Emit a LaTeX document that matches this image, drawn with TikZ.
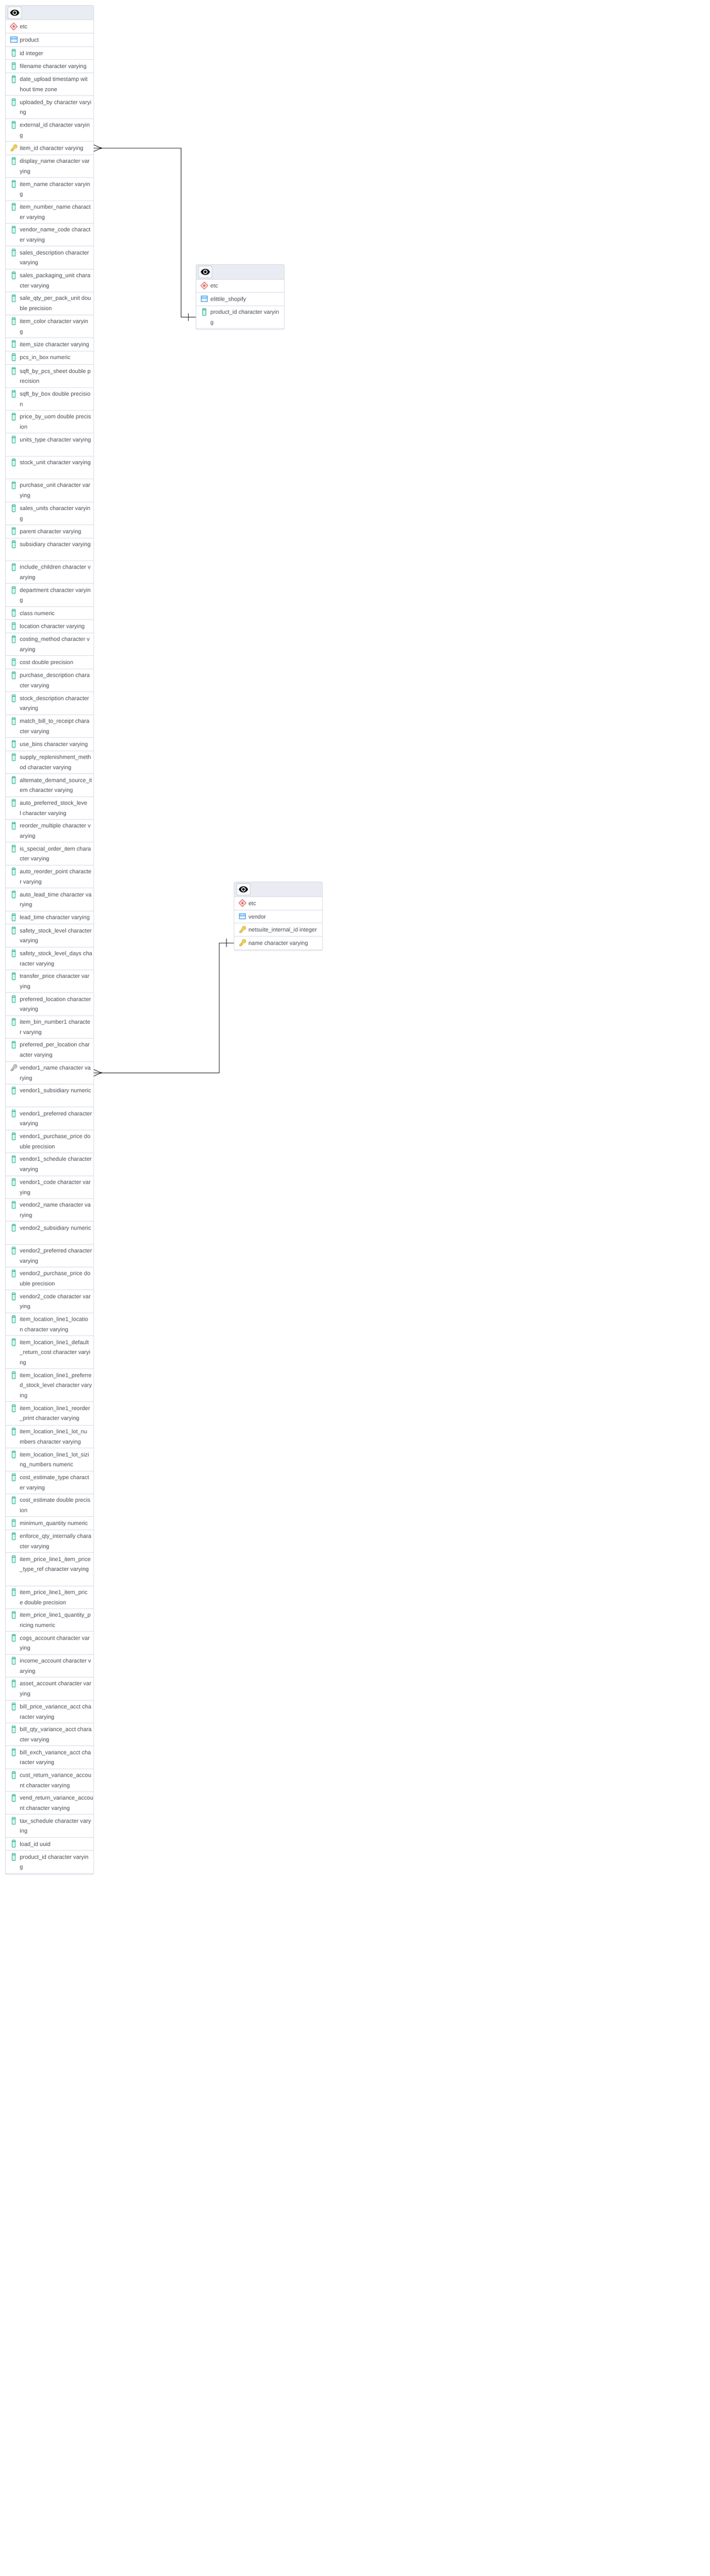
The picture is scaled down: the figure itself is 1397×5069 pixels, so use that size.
\documentclass[tikz,border=0pt]{standalone}
\usepackage{fontspec}
\setmainfont{Liberation Sans}
\usetikzlibrary{calc}
\catcode`\_=12
\definecolor{rowline}{HTML}{DADCE6}
\definecolor{frameline}{HTML}{D8DBE5}
\definecolor{headfill}{HTML}{E9ECF2}
\definecolor{btnfill}{HTML}{F8F9FB}
\definecolor{btnline}{HTML}{BFC5D2}
\definecolor{inktext}{HTML}{4A4E55}
\definecolor{teal}{HTML}{3DBD9F}
\definecolor{tealdark}{HTML}{1E8E76}
\definecolor{teallight}{HTML}{C4EDE2}
\definecolor{goldline}{HTML}{CDA52B}
\definecolor{goldfill}{HTML}{F5D86A}
\definecolor{greyline}{HTML}{8E8E8E}
\definecolor{greyfill}{HTML}{D0D0D0}
\definecolor{schemared}{HTML}{D9534F}
\definecolor{tableblue}{HTML}{2196F3}
\definecolor{tablesky}{HTML}{BBDEFB}
\definecolor{tablegrey}{HTML}{E3E5E8}
\definecolor{linkink}{HTML}{222222}
\tikzset{
  x=1pt,y=-1pt,
  rowcell/.style={anchor=north west,inner sep=0pt,outer sep=0pt,minimum width=174pt},
  rowrule/.style={draw=rowline,line width=1pt},
  celltext/.style={anchor=north west,inner sep=0pt,outer sep=0pt,align=left,text=inktext,
    font=\fontsize{11.2}{20}\selectfont},
  tablehead/.style={anchor=north west,inner sep=0pt,outer sep=0pt,minimum width=174pt,minimum height=29pt,
    fill=headfill,rounded corners=3pt},
  eyebutton/.style={anchor=center,inner sep=0pt,minimum width=27pt,minimum height=23.5pt,
    fill=btnfill,draw=btnline,line width=0.8pt,rounded corners=3pt},
  tableframe/.style={draw=frameline,line width=1pt,rounded corners=3pt},
  linkline/.style={draw=linkink,line width=1pt},
  colicon/.pic={
    \draw[teal,fill=teallight,line width=1.1pt,rounded corners=1pt] (-3.3,-7)rectangle(3.3,7);
    \draw[tealdark,line width=0.9pt] (-3,-4.3)--(3,-4.3);
    \foreach \yy in {-1.6,1,3.6}{\draw[white,line width=0.7pt] (-2.6,\yy)--(2.6,\yy);}
  },
  keyicon/.pic={
    \draw[goldline,line width=3.4pt,line cap=round] (2,-2)--(-5,5.2);
    \draw[goldline,line width=2.2pt] (-4,4.2)--(-2,6.2) (-1.8,2)--(0.2,4);
    \fill[goldline] (3,-2.8) circle (4.2);
    \fill[goldfill] (3,-2.8) circle (3.3);
    \draw[goldfill,line width=1.6pt,line cap=round] (2,-2)--(-5,5.2);
    \fill[goldline] (3.4,-3.2) circle (1.1);
  },
  fkeyicon/.pic={
    \draw[greyline,line width=3.4pt,line cap=round] (2,-2)--(-5,5.2);
    \draw[greyline,line width=2.2pt] (-4,4.2)--(-2,6.2) (-1.8,2)--(0.2,4);
    \fill[greyline] (3,-2.8) circle (4.2);
    \fill[greyfill] (3,-2.8) circle (3.3);
    \draw[greyfill,line width=1.6pt,line cap=round] (2,-2)--(-5,5.2);
    \fill[greyline] (3.4,-3.2) circle (1.1);
  },
  schemaicon/.pic={
    \draw[schemared,fill=white,line width=1pt,line join=round] (0,-7)--(7,0)--(0,7)--(-7,0)--cycle;
    \draw[schemared!45,line width=0.6pt] (0,-4.6)--(4.6,0)--(0,4.6)--(-4.6,0)--cycle;
    \fill[schemared] (0,-2.5)--(2.5,0)--(0,2.5)--(-2.5,0)--cycle;
  },
  tableicon/.pic={
    \fill[tablegrey] (-6.5,-5.5)rectangle(6.5,5.5);
    \fill[tablesky] (-6.5,-5.5)rectangle(6.5,-1.6);
    \draw[white,line width=0.7pt] (-6.5,1.9)--(6.5,1.9) (0,-5.5)--(0,5.5);
    \draw[tableblue,line width=1pt] (-6.5,-5.5)rectangle(6.5,5.5);
    \draw[tableblue,line width=0.6pt] (-6.5,-1.6)--(6.5,-1.6);
  },
  eyeicon/.pic={
    \fill[black] (-9,0) .. controls (-6,-8) and (6,-8) .. (9,0) .. controls (6,8) and (-6,8) .. (-9,0) -- cycle;
    \fill[white] (0,0) circle (4.4);
    \fill[black] (0,0) circle (2.7);
  }
}
% table start: name, left edge, top edge
\newcommand{\etable}[3]{%
  \def\tabx{#2}\def\taby{#3}%
  \node[tablehead] (#1head) at (\tabx,\taby) {};
  \fill[headfill] (#1head.west) rectangle (#1head.south east);
  \node[eyebutton] (#1eye) at ({\tabx+18.5},{\taby+14.5}) {};
  \pic at (#1eye.center) {eyeicon};
  \pgfmathsetmacro\tmpy{\taby+29}\global\let\ry\tmpy
  \draw[rowrule] (#1head.south west) -- (#1head.south east);
}
% row: node name, icon pic, height, text
\newcommand{\erow}[4]{%
  \node[rowcell,minimum height=#3pt] (#1) at (\tabx,\ry) {};
  \draw[rowrule] (#1.south west) -- (#1.south east);
  \pic at ({\tabx+16.5},{\ry+12.5}) {#2};
  \node[celltext] (#1text) at ({\tabx+28.5},{\ry+4.5+(#3==26)*0.6}) {\rule{0pt}{12pt}#4};
  \pgfmathsetmacro\tmpy{\ry+#3}\global\let\ry\tmpy
}
% frame round a finished table: name, last row name
\newcommand{\eframe}[2]{%
  \draw[tableframe] (#1head.north west) rectangle ($(#2.south east)+(0,2)$);
}
\begin{document}
\begin{tikzpicture}
\useasboundingbox (0,0) rectangle (1397,5069);
\fill[white] (0,0) rectangle (1397,5069);

\etable{prod}{10.5}{10.5}
\erow{psch}{schemaicon}{26}{etc}
\erow{ptab}{tableicon}{26}{product}
\erow{pid}{colicon}{26}{id integer}
\erow{pfile}{colicon}{26}{filename character varying}
\erow{pdate}{colicon}{45}{date_upload timestamp wit\\hout time zone}
\erow{pupl}{colicon}{45}{uploaded_by character varyi\\ng}
\erow{pext}{colicon}{45}{external_id character varyin\\g}
\erow{pitem}{keyicon}{26}{item_id character varying}
\erow{pdisp}{colicon}{45}{display_name character var\\ying}
\erow{pname}{colicon}{45}{item_name character varyin\\g}
\erow{pnum}{colicon}{45}{item_number_name charact\\er varying}
\erow{pvnc}{colicon}{45}{vendor_name_code charact\\er varying}
\erow{psd}{colicon}{45}{sales_description character\\varying}
\erow{pspu}{colicon}{45}{sales_packaging_unit chara\\cter varying}
\erow{psq}{colicon}{45}{sale_qty_per_pack_unit dou\\ble precision}
\erow{pcol}{colicon}{45}{item_color character varyin\\g}
\erow{psize}{colicon}{26}{item_size character varying}
\erow{ppcs}{colicon}{27}{pcs_in_box numeric}
\erow{psqp}{colicon}{45}{sqft_by_pcs_sheet double p\\recision}
\erow{psqb}{colicon}{45}{sqft_by_box double precisio\\n}
\erow{ppu}{colicon}{45}{price_by_uom double precis\\ion}
\erow{put}{colicon}{45}{units_type character varying}
\erow{pstu}{colicon}{45}{stock_unit character varying}
\erow{ppun}{colicon}{45}{purchase_unit character var\\ying}
\erow{psun}{colicon}{45}{sales_units character varyin\\g}
\erow{ppar}{colicon}{26}{parent character varying}
\erow{psub}{colicon}{45}{subsidiary character varying}
\erow{pinc}{colicon}{45}{include_children character v\\arying}
\erow{pdep}{colicon}{45}{department character varyin\\g}
\erow{pcla}{colicon}{26}{class numeric}
\erow{ploc}{colicon}{26}{location character varying}
\erow{pcm}{colicon}{45}{costing_method character v\\arying}
\erow{pcost}{colicon}{26}{cost double precision}
\erow{ppd}{colicon}{45}{purchase_description chara\\cter varying}
\erow{pstd}{colicon}{45}{stock_description character\\varying}
\erow{pmb}{colicon}{45}{match_bill_to_receipt chara\\cter varying}
\erow{pub}{colicon}{26}{use_bins character varying}
\erow{psr}{colicon}{45}{supply_replenishment_meth\\od character varying}
\erow{pads}{colicon}{45}{alternate_demand_source_it\\em character varying}
\erow{paps}{colicon}{45}{auto_preferred_stock_leve\\l character varying}
\erow{prm}{colicon}{45}{reorder_multiple character v\\arying}
\erow{pisp}{colicon}{45}{is_special_order_item chara\\cter varying}
\erow{parp}{colicon}{45}{auto_reorder_point characte\\r varying}
\erow{palt}{colicon}{45}{auto_lead_time character va\\rying}
\erow{plt}{colicon}{26}{lead_time character varying}
\erow{pssl}{colicon}{45}{safety_stock_level character\\varying}
\erow{pssd}{colicon}{45}{safety_stock_level_days cha\\racter varying}
\erow{ptp}{colicon}{45}{transfer_price character var\\ying}
\erow{pprl}{colicon}{45}{preferred_location character\\varying}
\erow{pibn}{colicon}{45}{item_bin_number1 characte\\r varying}
\erow{pppl}{colicon}{45}{preferred_per_location char\\acter varying}
\erow{pvone}{fkeyicon}{45}{vendor1_name character va\\rying}
\erow{pvos}{colicon}{45}{vendor1_subsidiary numeric}
\erow{pvop}{colicon}{45}{vendor1_preferred character\\varying}
\erow{pvopp}{colicon}{45}{vendor1_purchase_price do\\uble precision}
\erow{pvosc}{colicon}{45}{vendor1_schedule character\\varying}
\erow{pvoc}{colicon}{45}{vendor1_code character var\\ying}
\erow{pvtn}{colicon}{45}{vendor2_name character va\\rying}
\erow{pvts}{colicon}{45}{vendor2_subsidiary numeric}
\erow{pvtp}{colicon}{45}{vendor2_preferred character\\varying}
\erow{pvtpp}{colicon}{45}{vendor2_purchase_price do\\uble precision}
\erow{pvtc}{colicon}{45}{vendor2_code character var\\ying}
\erow{pill}{colicon}{45}{item_location_line1_locatio\\n character varying}
\erow{pild}{colicon}{65}{item_location_line1_default\\_return_cost character varyi\\ng}
\erow{pilp}{colicon}{65}{item_location_line1_preferre\\d_stock_level character vary\\ing}
\erow{pilr}{colicon}{46}{item_location_line1_reorder\\_print character varying}
\erow{piln}{colicon}{45}{item_location_line1_lot_nu\\mbers character varying}
\erow{pils}{colicon}{45}{item_location_line1_lot_sizi\\ng_numbers numeric}
\erow{pcet}{colicon}{45}{cost_estimate_type charact\\er varying}
\erow{pce}{colicon}{45}{cost_estimate double precis\\ion}
\erow{pmin}{colicon}{26}{minimum_quantity numeric}
\erow{peqi}{colicon}{45}{enforce_qty_internally chara\\cter varying}
\erow{pipt}{colicon}{65}{item_price_line1_item_price\\_type_ref character varying}
\erow{pipp}{colicon}{45}{item_price_line1_item_pric\\e double precision}
\erow{pipq}{colicon}{45}{item_price_line1_quantity_p\\ricing numeric}
\erow{pcogs}{colicon}{45}{cogs_account character var\\ying}
\erow{pinca}{colicon}{45}{income_account character v\\arying}
\erow{pass}{colicon}{45}{asset_account character var\\ying}
\erow{pbpv}{colicon}{45}{bill_price_variance_acct cha\\racter varying}
\erow{pbqv}{colicon}{45}{bill_qty_variance_acct chara\\cter varying}
\erow{pbev}{colicon}{45}{bill_exch_variance_acct cha\\racter varying}
\erow{pcrv}{colicon}{45}{cust_return_variance_accou\\nt character varying}
\erow{pvrv}{colicon}{45}{vend_return_variance_accou\\nt character varying}
\erow{ptax}{colicon}{45}{tax_schedule character vary\\ing}
\erow{pload}{colicon}{26}{load_id uuid}
\erow{ppid}{colicon}{45}{product_id character varyin\\g}
\eframe{prod}{ppid}

\etable{shop}{385.5}{520.5}
\erow{ssch}{schemaicon}{26}{etc}
\erow{stab}{tableicon}{26}{elittile_shopify}
\erow{spid}{colicon}{45}{product_id character varyin\\g}
\eframe{shop}{spid}

\etable{vend}{460.5}{1735.5}
\erow{vsch}{schemaicon}{26}{etc}
\erow{vtab}{tableicon}{26}{vendor}
\erow{vnet}{keyicon}{26}{netsuite_internal_id integer}
\erow{vnam}{keyicon}{26}{name character varying}
\eframe{vend}{vnam}

\coordinate (busa) at (356,0);
\coordinate (busb) at (431,0);
% product.item_id <- elittile_shopify.product_id
\draw[linkline] (spid.west) -- (spid.west -| busa) -- (pitem.east -| busa) -- (pitem.east);
\draw[linkline] ($(spid.west)+(-15,-8)$) -- ($(spid.west)+(-15,8)$);
\draw[linkline] ($(pitem.east)+(0,-6.5)$) -- ($(pitem.east)+(14.5,0)$) -- ($(pitem.east)+(0,6.5)$);
\fill[linkink] ($(pitem.east)+(14.5,0)$) circle (1.8);
% product.vendor1_name <- vendor.name
\draw[linkline] (vnam.west) -- (vnam.west -| busb) -- (pvone.east -| busb) -- (pvone.east);
\draw[linkline] ($(vnam.west)+(-15,-8)$) -- ($(vnam.west)+(-15,8)$);
\draw[linkline] ($(pvone.east)+(0,-6.5)$) -- ($(pvone.east)+(14.5,0)$) -- ($(pvone.east)+(0,6.5)$);
\fill[linkink] ($(pvone.east)+(14.5,0)$) circle (1.8);
\end{tikzpicture}
\end{document}
